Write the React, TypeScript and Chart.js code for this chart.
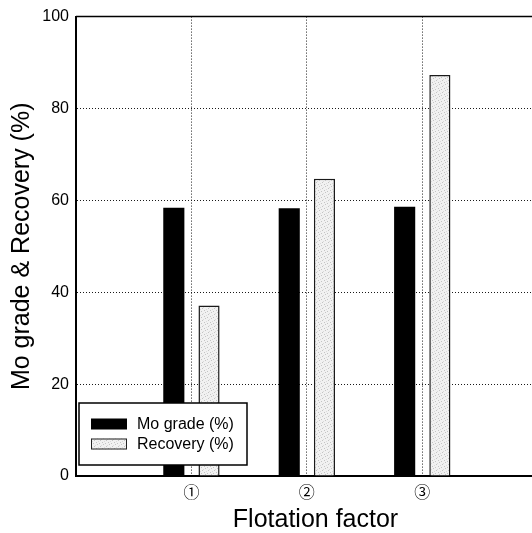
import React, { useEffect, useRef } from "react";
import { Chart, registerables } from "chart.js";

Chart.register(...registerables);

const categories = ["①", "②", "③"];
const categoryPositions = [1, 2, 3];
const moGrade = [58.4, 58.3, 58.6];
const recovery = [37.1, 64.7, 87.3];
const yTicks = [0, 20, 40, 60, 80, 100];
const seriesLabels = ["Mo grade (%)", "Recovery (%)"];

function makePattern(): CanvasPattern | string {
  const c = document.createElement("canvas");
  c.width = 6;
  c.height = 6;
  const g = c.getContext("2d");
  if (!g) return "#eeeeee";
  g.fillStyle = "#f1f1f1";
  g.fillRect(0, 0, 6, 6);
  g.fillStyle = "#c4c4c4";
  g.fillRect(1, 0, 1, 1);
  g.fillRect(4, 2, 1, 1);
  g.fillRect(0, 4, 1, 1);
  g.fillRect(3, 5, 1, 1);
  g.fillStyle = "#dadada";
  g.fillRect(2, 3, 1, 1);
  g.fillRect(5, 1, 1, 1);
  const p = g.createPattern(c, "repeat");
  return p || "#eeeeee";
}

export default function App() {
  const ref = useRef<HTMLCanvasElement | null>(null);

  useEffect(() => {
    if (!ref.current) return;
    const pattern = makePattern();

    const framePlugin = {
      id: "frameTop",
      beforeDatasetsDraw(chart: any) {
        const { ctx, chartArea } = chart;
        ctx.save();
        ctx.strokeStyle = "#000";
        ctx.lineWidth = 1.5;
        ctx.beginPath();
        ctx.moveTo(chartArea.left, chartArea.top);
        ctx.lineTo(chartArea.right, chartArea.top);
        ctx.stroke();
        ctx.restore();
      },
    };

    const legendPlugin = {
      id: "insideLegend",
      afterDraw(chart: any) {
        const { ctx, chartArea } = chart;
        const x0 = chartArea.left + 3;
        const y1 = chartArea.bottom - 11;
        const w = 168;
        const h = 62;
        const y0 = y1 - h;
        ctx.save();
        ctx.fillStyle = "#fff";
        ctx.fillRect(x0, y0, w, h);
        ctx.strokeStyle = "#000";
        ctx.lineWidth = 1.5;
        ctx.strokeRect(x0, y0, w, h);
        const ds = chart.data.datasets;
        const rows = [y0 + 21, y0 + 41];
        ds.forEach((d: any, i: number) => {
          const cy = rows[i];
          const sx = x0 + 12;
          const sy = cy - 5.5;
          ctx.fillStyle = d.backgroundColor;
          ctx.fillRect(sx, sy, 36, 11);
          if (i === 1) {
            ctx.strokeStyle = "#222";
            ctx.lineWidth = 1;
            ctx.strokeRect(sx + 0.5, sy + 0.5, 35, 10);
          }
          ctx.fillStyle = "#000";
          ctx.font = "16px Arial, 'Liberation Sans', sans-serif";
          ctx.textBaseline = "middle";
          ctx.textAlign = "left";
          ctx.fillText(d.label, x0 + 58, cy + 1);
        });
        ctx.restore();
      },
    };

    const chart = new Chart(ref.current, {
      type: "bar",
      data: {
        datasets: [
          {
            label: seriesLabels[0],
            data: categoryPositions.map((x, i) => ({ x, y: moGrade[i] })),
            backgroundColor: "#000",
            borderColor: "#000",
            borderWidth: 0,
            categoryPercentage: 0.61,
            barPercentage: 0.6,
          },
          {
            label: seriesLabels[1],
            data: categoryPositions.map((x, i) => ({ x, y: recovery[i] })),
            backgroundColor: pattern as any,
            borderColor: "#1a1a1a",
            borderWidth: 1.5,
            borderSkipped: "bottom",
            categoryPercentage: 0.61,
            barPercentage: 0.6,
          },
        ],
      },
      options: {
        responsive: false,
        animation: false,
        devicePixelRatio: 1,
        layout: { padding: { top: 15, right: 5, bottom: 0, left: 0 } },
        plugins: {
          legend: { display: false },
          tooltip: { enabled: false },
        },
        scales: {
          x: {
            type: "linear",
            min: 0,
            max: 4.15,
            offset: false,
            afterBuildTicks: (scale: any) => {
              scale.ticks = categoryPositions.map((v) => ({ value: v }));
            },
            afterFit: (scale: any) => {
              scale.height = 57;
            },
            ticks: {
              autoSkip: false,
              maxRotation: 0,
              padding: 6,
              color: "#000",
              font: { family: "'Noto Sans CJK JP', 'DejaVu Sans', sans-serif", size: 16 },
              callback: (value: any) => {
                const idx = categoryPositions.indexOf(Number(value));
                return idx >= 0 ? categories[idx] : "";
              },
            },
            grid: {
              color: "#1a1a1a",
              lineWidth: 1,
              drawTicks: false,
              offset: false,
            },
            border: { display: true, color: "#000", width: 2, dash: [1, 2] },
            title: {
              display: true,
              text: "Flotation factor",
              color: "#000",
              font: { family: "Arial, 'Liberation Sans', sans-serif", size: 25, lineHeight: 1 },
              padding: { top: 0, bottom: 0 },
            },
          },
          y: {
            min: 0,
            max: 100,
            afterBuildTicks: (scale: any) => {
              scale.ticks = yTicks.map((v) => ({ value: v }));
            },
            afterFit: (scale: any) => {
              scale.width = 76;
            },
            ticks: {
              padding: 7,
              color: "#000",
              font: { family: "Arial, 'Liberation Sans', sans-serif", size: 16 },
            },
            grid: {
              color: "#1a1a1a",
              lineWidth: 1,
              drawTicks: false,
            },
            border: { display: true, color: "#000", width: 2, dash: [1, 2] },
            title: {
              display: true,
              text: "Mo grade & Recovery (%)",
              color: "#000",
              font: { family: "Arial, 'Liberation Sans', sans-serif", size: 25, lineHeight: 1 },
              padding: { top: 10, bottom: 0 },
            },
          },
        },
      },
      plugins: [framePlugin, legendPlugin],
    });

    return () => chart.destroy();
  }, []);

  return (
    <div style={{ position: "fixed", left: 0, top: 0, width: 560, height: 533, background: "#fff" }}>
      <canvas ref={ref} width={560} height={533} style={{ display: "block" }} />
    </div>
  );
}
